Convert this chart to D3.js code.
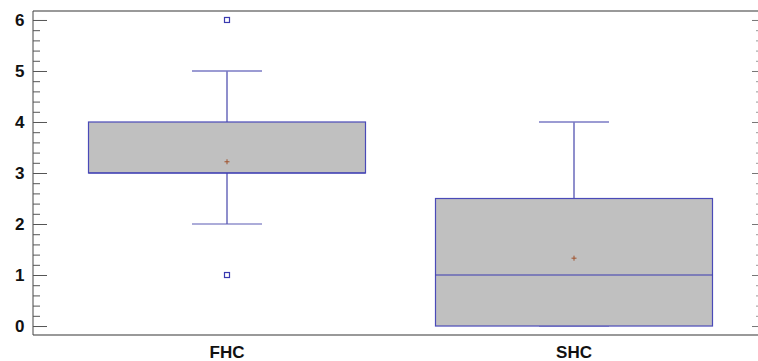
<!DOCTYPE html>
<html><head><meta charset="utf-8">
<script src="https://cdn.jsdelivr.net/npm/d3@7"></script>
<style>body{margin:0;background:#fff}svg{display:block}</style>
</head><body>
<svg id="c" width="758" height="361"></svg>
<script>
const categories = ["FHC", "SHC"];
const q1 = [3, 0];
const median = [3, 1];
const q3 = [4, 2.5];
const whiskerLow = [2, 0];
const whiskerHigh = [5, 4];
const means = [3.22, 1.33];
const outliers = [[1, 6], []];
const yTicks = [0, 1, 2, 3, 4, 5, 6];

(function () {
const svg = d3.select("#c");
const pLeft = 33, pRight = 761, pTop = 11, pBottom = 335;
const y = d3.scaleLinear().domain([-0.176, 6.176]).range([pBottom, pTop]);
const x = d3.scalePoint().domain(categories).range([227, 574]);
const boxW = 277, capW = 70;

// frame
svg.append("line").attr("x1", pLeft).attr("x2", 758).attr("y1", pTop).attr("y2", pTop).attr("stroke", "#777").attr("stroke-width", 1.5);
svg.append("line").attr("x1", pLeft).attr("x2", 758).attr("y1", pBottom).attr("y2", pBottom).attr("stroke", "#777").attr("stroke-width", 1.5);
svg.append("line").attr("x1", pLeft).attr("x2", pLeft).attr("y1", pTop).attr("y2", pBottom).attr("stroke", "#444").attr("stroke-width", 1);

// y axis left
const yAxis = d3.axisRight(y).tickValues(yTicks).tickSize(14).tickFormat("");
const gL = svg.append("g").attr("transform", `translate(${pLeft},0)`).call(yAxis);
gL.select(".domain").remove();
gL.selectAll(".tick line").attr("stroke", "#555");
const minors = d3.range(0, 6.0001, 0.2).filter(v => Math.abs(v - Math.round(v)) > 0.01);
const yMinor = d3.axisRight(y).tickValues(minors).tickSize(7).tickFormat("");
const gLm = svg.append("g").attr("transform", `translate(${pLeft},0)`).call(yMinor);
gLm.select(".domain").remove();
gLm.selectAll(".tick line").attr("stroke", "#555");
svg.append("g").selectAll("text").data(yTicks).join("text")
  .attr("x", 24.5).attr("y", d => y(d)).attr("dy", "0.36em").attr("text-anchor", "end")
  .attr("font-family", "Liberation Sans, Arial, sans-serif").attr("font-weight", "bold").attr("font-size", 17)
  .attr("fill", "#111").text(d => d);

// right axis ticks
const gR = svg.append("g").attr("transform", `translate(${pRight},0)`).call(d3.axisLeft(y).tickValues(yTicks).tickSize(9).tickFormat(""));
gR.select(".domain").remove();
gR.selectAll(".tick line").attr("stroke", "#777");
const gRm = svg.append("g").attr("transform", `translate(${pRight},0)`).call(d3.axisLeft(y).tickValues(minors).tickSize(5).tickFormat(""));
gRm.select(".domain").remove();
gRm.selectAll(".tick line").attr("stroke", "#999");

// boxes
const g = svg.append("g");
categories.forEach((c, i) => {
  const cx = x(c);
  g.append("line").attr("x1", cx).attr("x2", cx).attr("y1", y(q3[i])).attr("y2", y(whiskerHigh[i])).attr("stroke", "#8f8fcc").attr("stroke-width", 2);
  g.append("line").attr("x1", cx).attr("x2", cx).attr("y1", y(q1[i])).attr("y2", y(whiskerLow[i])).attr("stroke", "#8f8fcc").attr("stroke-width", 2);
  g.append("line").attr("x1", cx - capW / 2).attr("x2", cx + capW / 2).attr("y1", y(whiskerHigh[i])).attr("y2", y(whiskerHigh[i])).attr("stroke", "#7a7ac4").attr("stroke-width", 1.5);
  g.append("line").attr("x1", cx - capW / 2).attr("x2", cx + capW / 2).attr("y1", y(whiskerLow[i])).attr("y2", y(whiskerLow[i])).attr("stroke", "#5a5ab4").attr("stroke-width", 1.2);
  g.append("rect").attr("x", cx - boxW / 2).attr("y", y(q3[i])).attr("width", boxW).attr("height", y(q1[i]) - y(q3[i]))
    .attr("fill", "#c0c0c0").attr("stroke", "#4a4ab8").attr("stroke-width", 1.2);
  g.append("line").attr("x1", cx - boxW / 2).attr("x2", cx + boxW / 2).attr("y1", y(median[i])).attr("y2", y(median[i])).attr("stroke", "#3a3ab0").attr("stroke-width", 1.2);
  const my = y(means[i]);
  g.append("path").attr("d", `M${cx - 2.5},${my}H${cx + 2.5}M${cx},${my - 2.5}V${my + 2.5}`).attr("stroke", "#a0522d").attr("stroke-width", 1);
  g.selectAll(null).data(outliers[i]).join("rect")
    .attr("x", cx - 2.5).attr("y", d => y(d) - 2.5).attr("width", 5).attr("height", 5)
    .attr("fill", "#fff").attr("stroke", "#3a3ab0").attr("stroke-width", 1.2);
});

// x labels
svg.append("g").selectAll("text").data(categories).join("text")
  .attr("x", d => x(d)).attr("y", 358).attr("text-anchor", "middle")
  .attr("font-family", "Liberation Sans, Arial, sans-serif").attr("font-weight", "bold").attr("font-size", 17)
  .attr("fill", "#111").text(d => d);
})();
</script>
</body></html>
